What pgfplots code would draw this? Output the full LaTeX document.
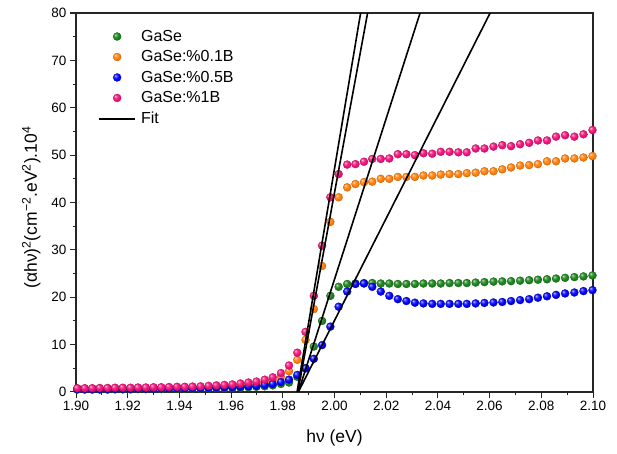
\documentclass[border=0pt]{standalone}
\usepackage{fontspec}
\setmainfont{Liberation Sans}
\usepackage{pgfplots}
\usepackage{pgfplotstable}
\pgfplotsset{compat=1.18}

\definecolor{cGaSe}{RGB}{25,130,25}
\definecolor{cBa}{RGB}{255,125,5}
\definecolor{cBb}{RGB}{0,0,245}
\definecolor{cBc}{RGB}{240,15,120}

% lighter sphere shading than the tikz default
\makeatletter
\pgfdeclareradialshading[tikz@ball]{ball}{\pgfpoint{-12bp}{12bp}}{%
  color(0bp)=(tikz@ball!20!white); color(8bp)=(tikz@ball!75!white);
  color(18bp)=(tikz@ball); color(36bp)=(tikz@ball!88!black);
  color(50bp)=(tikz@ball!70!black)}
\makeatother

\pgfplotsset{
  sphere/.style={only marks, mark=ball, mark size=4pt, ball color=#1,
    mark options={draw=#1!75!black, line width=0.3pt}},
}

% E (eV), GaSe, 0.1B, 0.5B, 1B
\pgfplotstableread{
E G O B P
1.9005 0.50 0.70 0.60 0.80
1.9034 0.50 0.70 0.60 0.80
1.9063 0.50 0.70 0.60 0.80
1.9092 0.50 0.70 0.60 0.85
1.9122 0.50 0.75 0.60 0.85
1.9151 0.55 0.75 0.65 0.90
1.9181 0.55 0.80 0.65 0.90
1.9211 0.55 0.80 0.65 0.90
1.9240 0.60 0.80 0.70 0.95
1.9270 0.60 0.85 0.70 0.95
1.9300 0.60 0.85 0.70 1.00
1.9330 0.60 0.85 0.75 1.00
1.9360 0.65 0.90 0.75 1.05
1.9391 0.65 0.90 0.80 1.10
1.9421 0.70 0.95 0.80 1.10
1.9451 0.70 0.95 0.85 1.15
1.9482 0.70 1.00 0.85 1.20
1.9513 0.75 1.05 0.90 1.30
1.9543 0.80 1.10 0.95 1.40
1.9574 0.80 1.20 1.00 1.50
1.9605 0.85 1.30 1.00 1.60
1.9636 0.90 1.45 1.10 1.80
1.9667 1.00 1.60 1.20 2.00
1.9698 1.10 1.80 1.30 2.20
1.9730 1.20 2.10 1.50 2.60
1.9761 1.40 2.50 1.70 3.10
1.9793 1.70 3.20 2.10 4.00
1.9824 2.00 4.40 2.60 5.60
1.9856 3.20 6.80 3.60 8.30
1.9888 5.00 11.0 5.00 12.7
1.9920 9.60 17.5 7.00 20.3
1.9952 15.0 26.6 9.90 30.9
1.9984 20.3 35.9 13.8 41.1
2.0016 22.2 41.1 18.0 46.0
2.0049 22.8 43.2 21.2 48.0
2.0081 22.9 43.9 22.8 48.1
2.0114 23.0 44.3 22.9 48.6
2.0146 23.0 44.4 22.2 49.2
2.0179 22.9 45.0 21.2 49.2
2.0212 22.9 45.0 20.3 49.3
2.0245 22.8 45.4 19.6 50.2
2.0278 22.8 45.4 19.2 50.2
2.0311 22.8 45.4 18.85 50.0
2.0344 22.9 45.7 18.7 50.4
2.0378 22.9 45.7 18.6 50.3
2.0411 22.9 45.9 18.6 50.7
2.0445 23.0 46.0 18.6 50.7
2.0479 23.0 46.0 18.6 50.6
2.0512 23.0 46.2 18.6 50.6
2.0546 23.1 46.3 18.7 51.4
2.0580 23.2 46.6 18.8 51.4
2.0615 23.3 46.6 18.9 51.8
2.0649 23.35 47.0 19.0 52.1
2.0683 23.4 47.4 19.2 51.9
2.0718 23.5 47.8 19.4 52.3
2.0753 23.6 47.9 19.6 52.6
2.0787 23.7 48.1 19.9 53.1
2.0822 23.8 48.7 20.2 53.1
2.0857 23.95 48.7 20.5 53.9
2.0892 24.1 49.3 20.8 54.2
2.0928 24.25 49.3 21.0 53.9
2.0963 24.4 49.5 21.3 54.4
2.0998 24.6 49.8 21.5 55.3
}\absdata

\begin{document}
\begin{tikzpicture}
\useasboundingbox (-76pt,-62pt) rectangle (541pt,392pt);
\begin{axis}[
    scale only axis,
    width=517pt, height=379pt,
    xmin=1.90, xmax=2.10, ymin=0, ymax=80,
    xtick={1.90,1.92,1.94,1.96,1.98,2.00,2.02,2.04,2.06,2.08,2.10},
    ytick={0,10,20,30,40,50,60,70,80},
    minor x tick num=1, minor y tick num=1,
    xticklabel style={/pgf/number format/.cd, fixed, fixed zerofill, precision=2},
    /pgf/number format/assume math mode=true,
    tick align=outside, tick pos=left,
    major tick length=6pt, minor tick length=3.5pt,
    axis line style={line width=1.2pt, black!85},
    every tick/.style={black!85, line width=1pt},
    ticklabel style={font=\fontsize{13.5}{16}\selectfont},
    xlabel={hν (eV)},
    ylabel={(αhν)\textsuperscript{2}(cm\textsuperscript{−2}.eV\textsuperscript{2}).10\textsuperscript{4}},
    label style={font=\fontsize{17.5}{20}\selectfont},
    xlabel style={yshift=-12pt},
    ylabel style={yshift=4pt, xshift=-5pt},
    clip mode=individual,
    legend image code/.code={
        \draw[mark repeat=2,mark phase=2,#1]
        plot coordinates {(0pt,0pt) (18pt,0pt) (36pt,0pt)};},
    legend style={draw=none, fill=none, at={(0,1)}, anchor=north west,
        xshift=19pt, yshift=-13pt, font=\fontsize{16}{18}\selectfont,
        row sep=3.8pt, /tikz/every odd column/.append style={column sep=3pt}},
    legend cell align=left,
]
\addplot[sphere=cGaSe] table[x=E, y=G] {\absdata};
\addlegendentry{GaSe}
\addplot[sphere=cBa] table[x=E, y=O] {\absdata};
\addlegendentry{GaSe:\%0.1B}
\addplot[sphere=cBb] table[x=E, y=B] {\absdata};
\addlegendentry{GaSe:\%0.5B}
\addplot[sphere=cBc] table[x=E, y=P] {\absdata};
\addlegendentry{GaSe:\%1B}
\addplot[black, line width=1.6pt, legend image post style={line width=1.9pt}] coordinates {(1.9855,0) (2.0101,80)};
\addlegendentry{Fit}
\addplot[black, line width=1.6pt, forget plot] coordinates {(1.9858,0) (2.0128,80)};
\addplot[black, line width=1.6pt, forget plot] coordinates {(1.9860,0) (2.0331,80)};
\addplot[black, line width=1.6pt, forget plot] coordinates {(1.9860,0) (2.0602,80)};
\end{axis}
\end{tikzpicture}
\end{document}
